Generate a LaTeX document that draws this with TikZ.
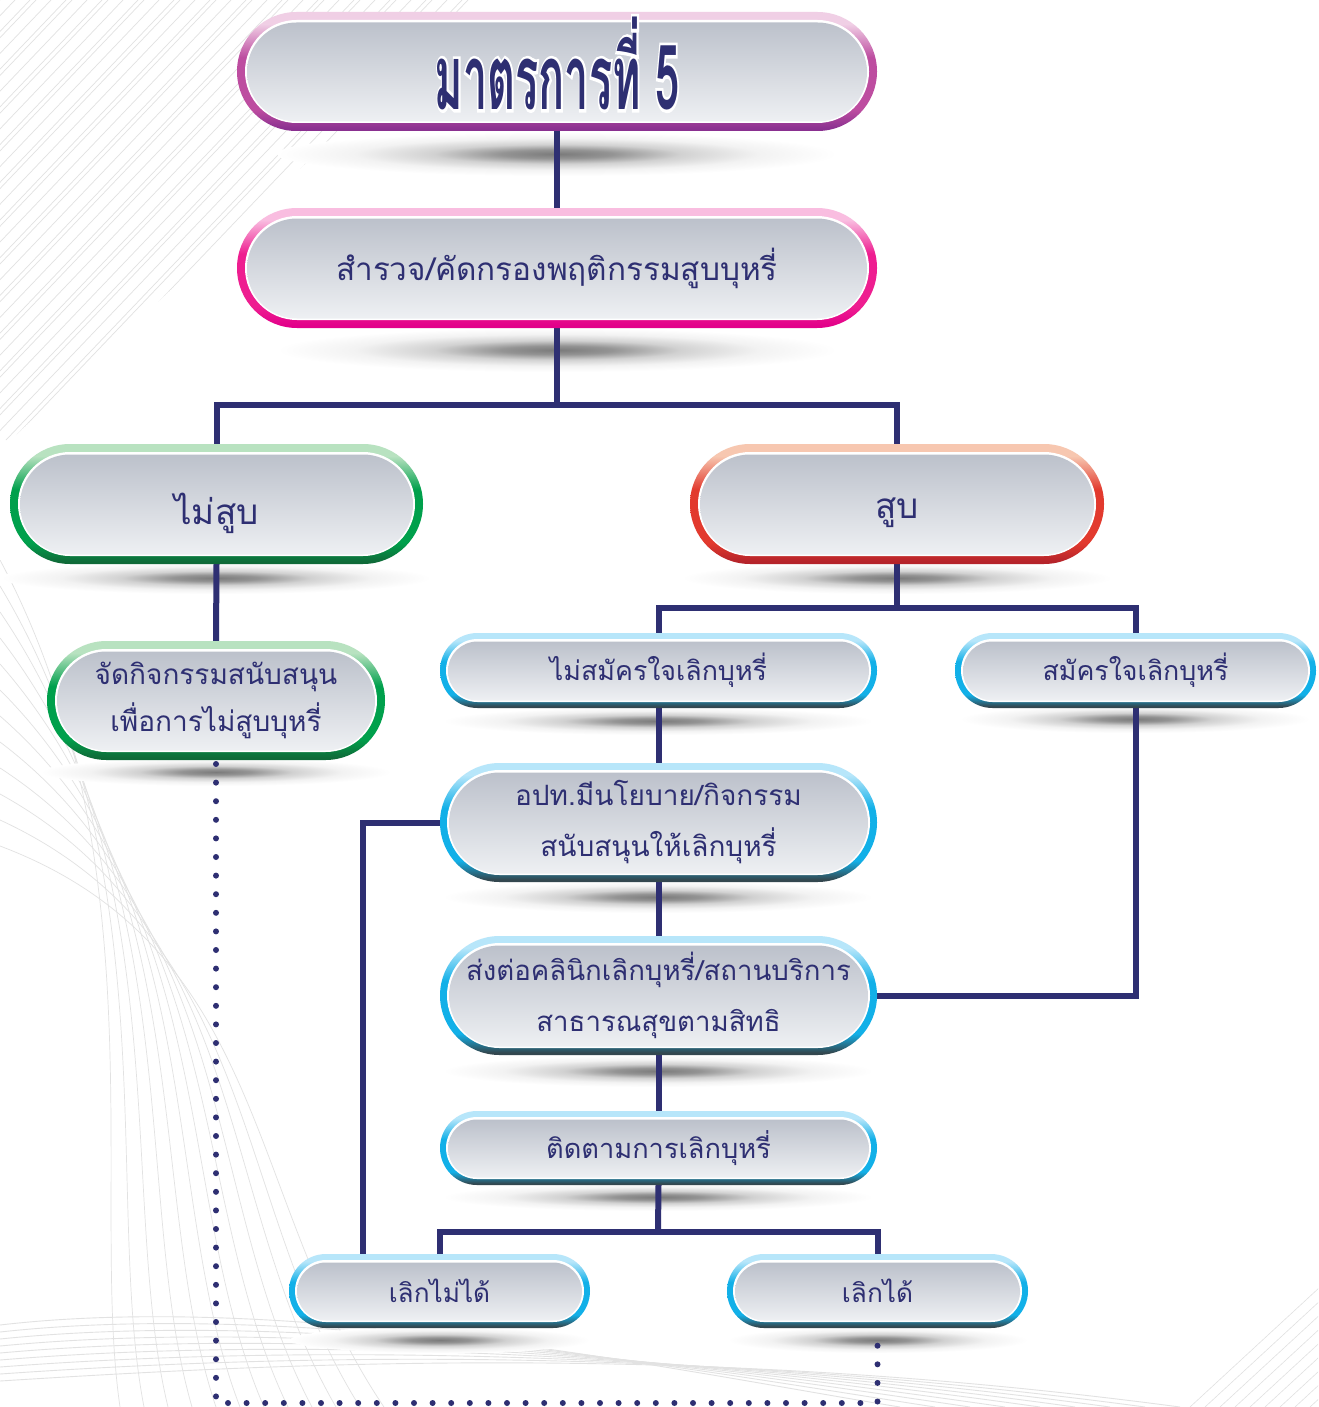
\documentclass[tikz,border=0pt]{standalone}
\usepackage{graphicx}
\usepackage{fontspec}
\setmainfont[Script=Thai]{Loma}
\newfontfamily\titleoutline[Script=Thai, BoldFeatures={FakeBold=7}]{Loma}
\usetikzlibrary{shapes.misc}
\definecolor{navy}{HTML}{2E2F72}
\definecolor{innerTop}{HTML}{BCC1CB}
\definecolor{innerBot}{HTML}{EEF0F3}
\definecolor{decoGray}{HTML}{E2E2E2}
\pgfdeclarelayer{deco}\pgfdeclarelayer{shadow}\pgfdeclarelayer{conn}
\pgfsetlayers{deco,shadow,conn,main}
\definecolor{pT}{HTML}{F0CFE5}\definecolor{pM}{HTML}{BD4DA0}\definecolor{pB}{HTML}{8A3090}
\definecolor{mT}{HTML}{F9BDE0}\definecolor{mM}{HTML}{EE1E90}\definecolor{mB}{HTML}{E2008A}
\definecolor{gT}{HTML}{B8E2C0}\definecolor{gM}{HTML}{00A04C}\definecolor{gB}{HTML}{0F6A38}
\definecolor{rT}{HTML}{F7C7B0}\definecolor{rM}{HTML}{E23A2E}\definecolor{rB}{HTML}{B5232A}
\definecolor{bT}{HTML}{B7E6FA}\definecolor{bM}{HTML}{12B0E8}\definecolor{bB}{HTML}{33474F}
\newcommand\bandshade[1]{%
  \pgfdeclareverticalshading{band#1}{100bp}{color(0bp)=(#1B); color(26bp)=(#1B); color(34bp)=(#1M);
    color(56bp)=(#1M); color(70bp)=(#1T); color(100bp)=(#1T)}}
\bandshade{p}\bandshade{m}\bandshade{g}\bandshade{r}\bandshade{b}
\pgfdeclareradialshading{shblob}{\pgfpoint{0bp}{0bp}}{color(0bp)=(black!52); color(5bp)=(black!42);
  color(11bp)=(black!18); color(18bp)=(black!5); color(25bp)=(white); color(50bp)=(white)}
\tikzset{
  pillshape/.style={rounded rectangle, inner sep=0pt, outer sep=0pt, draw=none},
  conn/.style={draw=navy, line width=6pt},
  dotline/.style={draw=navy, line width=6pt, line cap=round, dash pattern=on 0pt off 18.6pt},
  shadowblob/.style={shading=shblob},
  txt/.style={text=navy, align=center},
}
% #1 name, #2 center x,y, #3 width, #4 height, #5 band colour prefix, #6 band thickness,
% #7 font size, #8 baseline factor, #9 text (text node: #1-t)
\newcommand\mypill[9]{%
  \pgfmathsetmacro\mybs{#7*#8}%
  \node[pillshape, shading=band#5, minimum width=#3, minimum height=#4] (#1) at (#2) {};
  \node[pillshape, fill=white, minimum width=#3-2*#6, minimum height=#4-2*#6] (#1-w) at (#2) {};
  \node[pillshape, top color=innerTop, bottom color=innerBot,
        minimum width=#3-2*#6-4, minimum height=#4-2*#6-4] (#1-i) at ([yshift=-0.5pt]#2) {};
  \node[txt, inner sep=0pt, font=\fontsize{#7}{\mybs}\selectfont] (#1-t) at (#2) {#9};
}
\newcommand\myshadow[3]{% center x,y, rx, ry
  \begin{pgfonlayer}{shadow}
    \shade[shadowblob] (#1) ellipse (#2 and #3);
  \end{pgfonlayer}}
\begin{document}
\begin{tikzpicture}[x=1pt,y=-1pt]
\useasboundingbox (0,0) rectangle (1318,1407);

% ---- background decoration ----
\begin{pgfonlayer}{deco}
  \fill[white] (0,0) rectangle (1318,1407);
  \begin{scope}
    \clip (0,0) -- (480,0) -- (0,450) -- cycle;
    \foreach \i in {0,...,45} {
      \draw[decoGray, line width=0.7pt] ({\i*12+(mod(\i,3))*3},0) -- ++(-420,440);
    }
  \end{scope}
  \begin{scope}
    \clip (0,560) rectangle (1318,1407);
    \foreach \i in {0,...,11} {
      \draw[decoGray, line width=0.7pt] (0,{560+\i*26}) .. controls ({160+\i*10},{860+\i*8}) and ({90+\i*14},1200) .. ({120+\i*24},1407);
    }
    \foreach \i in {0,...,8} {
      \draw[decoGray, line width=0.9pt] (0,{1325+\i*7}) .. controls (300,{1290+\i*9}) and (700,{1375-\i*4}) .. ({900+\i*35},1407);
    }
    \foreach \i in {0,...,8} {
      \draw[decoGray, line width=0.6pt] ({1190+\i*15},1407) -- ++(130,-120);
    }
  \end{scope}
\end{pgfonlayer}

% ---- shadows ----
\myshadow{557,154}{280}{22}
\myshadow{557,350}{280}{22}
\myshadow{216,578}{215}{16}
\myshadow{897,578}{215}{16}
\myshadow{216,772}{175}{14}
\myshadow{658,721}{215}{14}
\myshadow{1135,719}{175}{14}
\myshadow{658,897}{215}{16}
\myshadow{658,1071}{215}{16}
\myshadow{658,1197}{215}{14}
\myshadow{440,1340}{150}{13}
\myshadow{878,1340}{150}{13}

% ---- nodes ----
\mypill{title}{557,71.5}{640}{119}{p}{8}{10}{1.7}{}
\node[text=white, inner sep=0pt] at ([yshift=8pt]title.center)
  {\scalebox{0.48}[1]{\fontsize{90}{90}\titleoutline\bfseries มาตรการที่ 5}};
\node[text=navy, inner sep=0pt] (titletext) at ([yshift=8pt]title.center)
  {\scalebox{0.48}[1]{\fontsize{90}{90}\selectfont\bfseries มาตรการที่ 5}};

\mypill{s2}{557,268}{640}{120}{m}{8}{31.5}{1.7}{สำรวจ/คัดกรองพฤติกรรมสูบบุหรี่}
\mypill{ns}{216.5,504}{413}{120}{g}{8}{35}{1.7}{\raisebox{-9pt}[\height][\depth]{ไม่สูบ}}
\mypill{sm}{897,504}{414}{120}{r}{8}{35}{1.7}{\raisebox{-9pt}[\height][\depth]{สูบ}}
\mypill{n5}{216,700.5}{338}{119}{g}{8}{28}{1.65}{จัดกิจกรรมสนับสนุน\\เพื่อการไม่สูบบุหรี่}
\mypill{n6}{658.5,670.5}{437}{75}{b}{6}{26.8}{1.7}{ไม่สมัครใจเลิกบุหรี่}
\mypill{n7}{1135.5,670.5}{361}{75}{b}{6}{26.8}{1.7}{สมัครใจเลิกบุหรี่}
\mypill{n8}{658.5,822.5}{437}{119}{b}{7}{28}{1.82}{อปท.มีนโยบาย/กิจกรรม\\สนับสนุนให้เลิกบุหรี่}
\mypill{n9}{658.5,995.5}{437}{119}{b}{7}{27.6}{1.85}{ส่งต่อคลินิกเลิกบุหรี่/สถานบริการ\\สาธารณสุขตามสิทธิ}
\mypill{n10}{658.5,1148}{437}{74}{b}{6}{27.2}{1.7}{ติดตามการเลิกบุหรี่}
\mypill{q1}{439.5,1291}{301}{74}{b}{6}{26.2}{1.7}{เลิกไม่ได้}
\mypill{q2}{877.5,1291}{301}{74}{b}{6}{26.2}{1.7}{เลิกได้}

% ---- connectors ----
\coordinate (j1) at (557,405);
\coordinate (j2) at (897,608);
\coordinate (j3) at (658,1232);
\coordinate (v1) at (363,0);
\coordinate (d1) at (216,1403);
\begin{pgfonlayer}{conn}
  \draw[conn] (title.south) -- (s2.north);
  \draw[conn] (s2.south) -- (j1);
  \draw[conn] (ns.north) |- (j1) -| (sm.north);
  \draw[conn] (ns.south) -- (n5.north);
  \draw[conn] (sm.south) -- (j2);
  \draw[conn] (n6.north) |- (j2) -| (n7.north);
  \draw[conn] (n6.south) -- (n8.north);
  \draw[conn] (n8.south) -- (n9.north);
  \draw[conn] (n7.south) |- (n9.east);
  \draw[conn] (n8.west) -| (q1.north -| v1);
  \draw[conn] (n9.south) -- (n10.north);
  \draw[conn] (n10.south) -- (j3);
  \draw[conn] (q1.north) |- (j3) -| (q2.north);
  \draw[dotline] ([yshift=-4pt]n5.south) -- (d1) -| ([yshift=-4pt]q2.south);
\end{pgfonlayer}
\end{tikzpicture}
\end{document}
